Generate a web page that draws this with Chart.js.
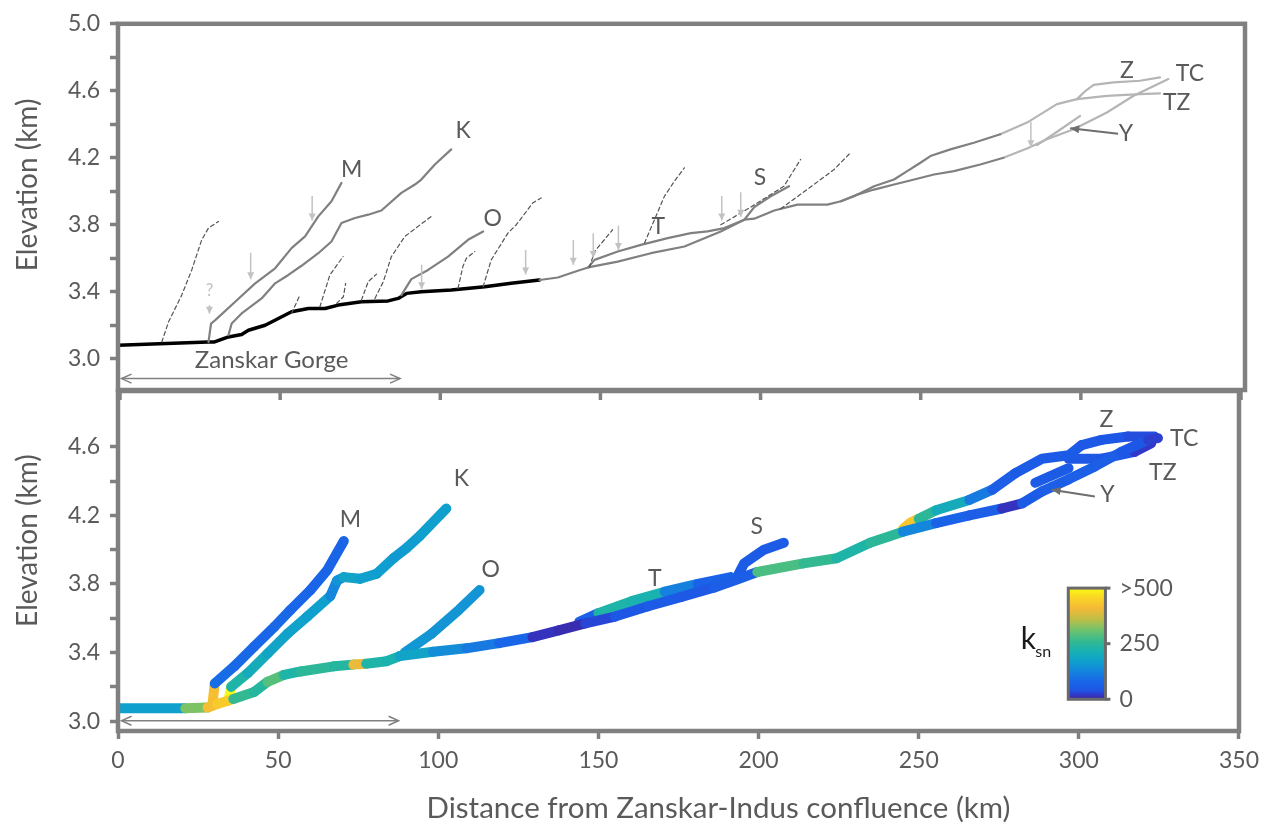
<!DOCTYPE html>
<html><head><meta charset="utf-8">
<script src="https://cdn.jsdelivr.net/npm/chart.js@4.4.1/dist/chart.umd.min.js"></script>
<style>
html,body{margin:0;padding:0;background:#fff;}
#wrap{position:relative;width:1267px;height:835px;}
canvas{position:absolute;left:0;top:0;}
</style></head><body>
<div id="wrap"><canvas id="cTop" width="1267" height="835"></canvas><canvas id="cBot" width="1267" height="835"></canvas></div>
<script>
// ---------------- axes ----------------
const xTicks = [0, 50, 100, 150, 200, 250, 300, 350];
const xRange = [0, 350];
const yTicksTop = [3.0, 3.2, 3.4, 3.6, 3.8, 4.0, 4.2, 4.4, 4.6, 4.8, 5.0];
const yLabelsTop = ['3.0', '3.4', '3.8', '4.2', '4.6', '5.0'];
const yRangeTop = [2.813, 5.0];
const yTicksBot = [3.0, 3.2, 3.4, 3.6, 3.8, 4.0, 4.2, 4.4, 4.6];
const yLabelsBot = ['3.0', '3.4', '3.8', '4.2', '4.6'];
const yRangeBot = [2.943, 4.925];
const xTitle = 'Distance from Zanskar-Indus confluence (km)';
const yTitle = 'Elevation (km)';

// ---------------- top panel: river long profiles [km, elevation km] ----------------
const zanskarGorgeTrunk = [[0,3.08],[28,3.10],[30,3.10],[34.3,3.13],[38.4,3.145],[40.5,3.17],[45.7,3.20],[49.8,3.24],[53.9,3.28],[59.1,3.30],[64.3,3.30],[68.4,3.32],[75.6,3.34],[83.9,3.345],[87,3.36],[89.6,3.39],[94.2,3.40],[103.5,3.41],[113.9,3.43],[122.1,3.45],[130.9,3.47]];
const trunkTop = [[130.9,3.47],[136.6,3.485],[142.8,3.525],[146,3.545],[155.2,3.58],[165.5,3.63],[175.9,3.67],[187.2,3.76],[194.5,3.83],[197.6,3.836],[203.8,3.885],[211,3.92],[220.3,3.92],[224.5,3.94],[229.6,3.98],[234.8,4.01],[241,4.04],[245.1,4.06],[253.4,4.10],[259.6,4.12],[267.8,4.16],[275,4.20]];
const tcTop = [[275,4.20],[282.3,4.255],[288.5,4.31],[296.8,4.37],[307.1,4.47],[315.4,4.57],[326.2,4.67]];
const tTop = [[146,3.545],[148,3.59],[155.2,3.64],[162.4,3.68],[170.7,3.72],[177.9,3.75],[183.1,3.76],[188.3,3.78],[194.5,3.83]];
const sTop = [[194.5,3.83],[197.6,3.905],[202.7,3.97],[208.4,4.03]];
const zUpperTop = [[224.5,3.94],[228.6,3.97],[234.8,4.03],[241,4.07],[245.1,4.12],[249.2,4.17],[252.3,4.21],[258.5,4.25],[265.8,4.29],[274,4.34]];
const zTop = [[274,4.34],[282.3,4.41],[291.6,4.52],[297.8,4.55],[300.5,4.60],[303,4.635],[309.2,4.65],[317.4,4.66],[323.6,4.68]];
const tzTop = [[297.8,4.55],[307.1,4.57],[317.4,4.58],[323.6,4.585]];
const yTop = [[285.4,4.275],[292,4.36],[298.8,4.45]];
const mTop = [[28.1,3.10],[28.9,3.21],[30.2,3.23],[36.4,3.34],[42.6,3.45],[48.8,3.54],[53.9,3.66],[58.1,3.73],[62.2,3.85],[66.3,3.94],[69.4,4.05]];
const kTop = [[34.3,3.14],[35.3,3.21],[38.4,3.27],[44.6,3.36],[48.8,3.45],[52.9,3.50],[57,3.555],[62.2,3.63],[66.3,3.70],[69.4,3.81],[73.6,3.84],[77.7,3.86],[81.8,3.885],[88,3.99],[92.2,4.04],[94.2,4.07],[98.4,4.16],[103.5,4.25]];
const oTop = [[88,3.38],[91.1,3.475],[96.3,3.53],[102.5,3.61],[108.7,3.71],[113.4,3.76]];
// small tributaries (dashed)
const trib1 = [[13.6,3.10],[15.7,3.22],[19.8,3.38],[22.9,3.53],[26,3.71],[28.1,3.78],[31.2,3.82]];
const trib2 = [[53.9,3.27],[56.5,3.38]];
const trib3 = [[62.7,3.31],[65.8,3.50],[69.9,3.61]];
const trib4 = [[67.9,3.33],[70,3.37],[70.7,3.45]];
const trib5 = [[75.6,3.35],[77.7,3.46],[80.3,3.505]];
const trib6 = [[79.8,3.36],[82.4,3.46],[84.9,3.61],[89.1,3.73],[97.3,3.85]];
const trib7 = [[105.6,3.42],[107.1,3.55],[108.2,3.60],[110.8,3.64]];
const trib8 = [[113.4,3.43],[115.9,3.59],[121.1,3.75],[123.7,3.80],[128.8,3.93],[131.4,3.96]];
const trib9 = [[146.4,3.545],[148,3.64],[153.6,3.77]];
const trib10 = [[163.5,3.69],[166.6,3.83],[169.7,3.97],[172.8,4.06],[175.9,4.14]];
const trib11 = [[187.2,3.80],[196.5,3.905],[206.8,4.03],[212,4.19]];
const trib12 = [[205.8,3.895],[216.1,4.04],[222.4,4.13],[227.5,4.23]];
// knickpoint arrows [km, top elevation, tip elevation]
const knickArrows = [[28.4,3.32,3.269],[41.2,3.632,3.474],[60.3,3.971,3.825],[94.3,3.561,3.415],[126.6,3.649,3.503],[141.4,3.708,3.561],[147.6,3.749,3.602],[155.4,3.795,3.649],[187.5,3.971,3.825],[193.4,3.994,3.848],[283.5,4.415,4.263]];
// labels [text, km, elevation]
const labelsTop = [['M',72.6,4.129],['K',107.2,4.363],['O',116.4,3.836],['T',167.8,3.788],['S',199.4,4.084],['Z',313.3,4.723],['TC',332.9,4.704],['TZ',328.8,4.528],['Y',313,4.343]];
const labelsBot = [['M',72.6,4.174],['K',107.2,4.413],['O',116.4,3.882],['T',167.6,3.83],['S',199.4,4.135],['Z',308.6,4.758],['TC',332.9,4.645],['TZ',326.2,4.447],['Y',308.9,4.32]];
const gorgeText = 'Zanskar Gorge';
const gorgeSpan = [1.1, 87.6];
const gorgeElevTop = 2.881, gorgeTextElev = 2.988, gorgeElevBot = 3.003;
const pointerTop = [[310.6,4.343],[295.7,4.376]];
const pointerBot = [[305,4.31],[291.5,4.35]];

// ---------------- bottom panel: profiles coloured by ksn ----------------
const trunkBot = [[0,3.075],[21,3.075],[28,3.08],[31,3.10],[36,3.13],[42.5,3.17],[46.7,3.23],[51.8,3.27],[57,3.29],[67.4,3.32],[73.5,3.33],[77.5,3.335],[83.9,3.35],[88,3.38],[98.4,3.405],[108.7,3.425],[119,3.455],[129.4,3.49],[137.6,3.53],[145.9,3.57],[155.2,3.61],[165.5,3.67],[175.9,3.725],[186.2,3.78],[192.4,3.82],[199.6,3.87],[214,3.92],[224.4,3.95],[234.8,4.04],[245.1,4.105],[255.4,4.155],[265.8,4.20],[276,4.24],[282.3,4.27],[288.5,4.34],[296.8,4.41],[305,4.485],[313.3,4.57],[321.6,4.64],[324.7,4.65]];
const trunkBotKsn = [170,320,420,440,260,240,290,230,250,240,400,230,220,180,140,110,80,15,8,30,45,55,50,60,60,280,260,230,250,130,70,60,15,55,60,65,60,45,25,25];
const mBot = [[29.5,3.10],[30.2,3.22],[36.3,3.32],[42.5,3.435],[48.8,3.55],[53.9,3.65],[60.1,3.765],[65.3,3.88],[70.5,4.05]];
const mBotKsn = [420,90,85,80,85,80,75,75,75];
const kBot = [[34.5,3.12],[35.3,3.20],[40.5,3.28],[46.7,3.395],[52.9,3.51],[59.1,3.61],[66.3,3.73],[68.4,3.82],[70.5,3.84],[75.6,3.83],[80.8,3.86],[86,3.95],[90.1,4.01],[94.2,4.08],[102.5,4.24]];
const kBotKsn = [500,230,200,180,175,170,130,150,180,170,165,160,165,170,170];
const oBot = [[89.5,3.40],[97.9,3.51],[106.5,3.65],[112.9,3.765]];
const oBotKsn = [155,150,150,150];
const tBot = [[144,3.58],[150,3.63],[160.4,3.70],[170.7,3.755],[181,3.80],[191.3,3.84]];
const tBotKsn = [70,230,220,120,70,60];
const sBot = [[193,3.83],[195.5,3.92],[201.7,4.0],[207.9,4.04]];
const sBotKsn = [55,55,55,55];
const zBot = [[245.1,4.12],[247.5,4.16],[250,4.18],[255.4,4.23],[265.8,4.29],[273,4.35],[280.2,4.446],[288.5,4.53],[296.8,4.55],[300.9,4.61],[307.1,4.64],[315.4,4.66],[323.6,4.66]];
const zBotKsn = [430,430,250,200,110,60,55,55,55,50,45,35,35];
const tzBot = [[296.8,4.53],[307.1,4.53],[317.4,4.57],[322.6,4.62]];
const tzBotKsn = [50,45,20,20];
const yBot = [[286.4,4.39],[296.8,4.475]];
const yBotKsn = [55,55];
// colour bar
const ksnTicks = [0, 250, 500];
const ksnTickLabels = ['0', '250', '>500'];
const ksnMax = 500;
const cbKm = [296.7, 308.3];
const cbElev = [3.128, 3.776];

// ---------------- styles ----------------
const FONT = 'Lato, "Open Sans", sans-serif';
const TXT = '#5a5a5a';
const FRAME = '#808080';
const parula = [[0,[60,38,160]],[0.04,[50,55,200]],[0.08,[30,85,228]],[0.16,[25,102,232]],[0.26,[20,135,220]],[0.34,[15,160,205]],[0.44,[25,178,175]],[0.52,[50,185,145]],[0.62,[110,195,110]],[0.72,[190,190,70]],[0.82,[245,185,55]],[0.92,[250,215,35]],[1,[249,250,20]]];
function ksnColor(v) {
  const t = Math.max(0, Math.min(1, v / ksnMax));
  for (let i = 1; i < parula.length; i++) {
    if (t <= parula[i][0]) {
      const [t0, c0] = parula[i-1], [t1, c1] = parula[i];
      const f = (t - t0) / (t1 - t0);
      const c = c0.map((a, k) => Math.round(a + (c1[k] - a) * f));
      return `rgb(${c[0]},${c[1]},${c[2]})`;
    }
  }
  return 'rgb(249,250,20)';
}
const pts = arr => arr.map(([x, y]) => ({x, y}));
const styles = {
  black: {borderColor: '#000', borderWidth: 3.5},
  grey: {borderColor: '#808080', borderWidth: 2.2},
  light: {borderColor: '#b5b5b5', borderWidth: 2.2},
  dash: {borderColor: '#555', borderWidth: 1.2, borderDash: [4, 3]}
};
function lineDs(arr, st) {
  return Object.assign({data: pts(arr), pointRadius: 0, tension: 0, fill: false, borderCapStyle: 'round', borderJoinStyle: 'round'}, styles[st]);
}
function ksnDs(arr, ksn) {
  return {data: pts(arr), pointRadius: 0, tension: 0, fill: false, borderWidth: 10,
    borderCapStyle: 'round', borderJoinStyle: 'round', borderColor: ksnColor(ksn[0]),
    segment: {borderColor: ctx => ksnColor(ksn[ctx.p0DataIndex])}};
}

// ---------------- drawing helpers ----------------
function head(ctx, x1, y1, x2, y2, len, hw, filled) {
  const a = Math.atan2(y2 - y1, x2 - x1);
  const bx = x2 - len * Math.cos(a), by = y2 - len * Math.sin(a);
  const px = hw * Math.sin(a), py = -hw * Math.cos(a);
  ctx.beginPath();
  ctx.moveTo(bx + px, by + py); ctx.lineTo(x2, y2); ctx.lineTo(bx - px, by - py);
  if (filled) { ctx.closePath(); ctx.fill(); } else ctx.stroke();
}
function arrow(ctx, x1, y1, x2, y2, color, w, len, hw, filled, both) {
  ctx.save();
  ctx.strokeStyle = color; ctx.fillStyle = color; ctx.lineWidth = w;
  ctx.beginPath(); ctx.moveTo(x1, y1); ctx.lineTo(x2, y2); ctx.stroke();
  head(ctx, x1, y1, x2, y2, len, hw, filled);
  if (both) head(ctx, x2, y2, x1, y1, len, hw, filled);
  ctx.restore();
}
function text(ctx, s, x, y, size, color, align, rot) {
  ctx.save();
  ctx.translate(x, y); if (rot) ctx.rotate(rot);
  ctx.font = `${size}px ${FONT}`; ctx.fillStyle = color;
  ctx.textAlign = align || 'center'; ctx.textBaseline = 'middle';
  ctx.fillText(s, 0, 0);
  ctx.restore();
}
function frame(ctx, ca) {
  ctx.save(); ctx.strokeStyle = FRAME; ctx.lineWidth = 4.5;
  ctx.strokeRect(ca.left, ca.top, ca.right - ca.left, ca.bottom - ca.top);
  ctx.restore();
}

function yScale(range, ticks, labels) {
  return {
    type: 'linear', min: range[0], max: range[1],
    afterFit: s => { s.width = 118; },
    afterBuildTicks: s => { s.ticks = ticks.map(v => ({value: v})); },
    border: {display: false},
    grid: {drawOnChartArea: false, drawTicks: true, tickLength: 8, tickWidth: 3.5, tickColor: FRAME},
    ticks: {padding: 10, color: TXT, font: {family: FONT, size: 23},
      callback: v => { const l = labels.find(s => Math.abs(parseFloat(s) - v) < 1e-6); return l === undefined ? '' : l; }},
    title: {display: false, text: yTitle}
  };
}

// ---------------- top chart ----------------
const topPlugin = {
  id: 'topAnno',
  afterDatasetsDraw(chart) {
    const {ctx, chartArea: ca, scales: {x, y}} = chart;
    knickArrows.forEach(([km, e1, e2]) => {
      const px = x.getPixelForValue(km);
      arrow(ctx, px, y.getPixelForValue(e1), px, y.getPixelForValue(e2), '#c2c2c2', 1.5, 7, 3.5, true, false);
    });
    text(ctx, '?', x.getPixelForValue(28.4), y.getPixelForValue(3.41), 17, '#c2c2c2');
    labelsTop.forEach(([s, km, e]) => text(ctx, s, x.getPixelForValue(km), y.getPixelForValue(e), 23, TXT));
    arrow(ctx, x.getPixelForValue(pointerTop[0][0]), y.getPixelForValue(pointerTop[0][1]), x.getPixelForValue(pointerTop[1][0]), y.getPixelForValue(pointerTop[1][1]), '#6e6e6e', 2, 9, 4, true, false);
    const gy = y.getPixelForValue(gorgeElevTop);
    arrow(ctx, x.getPixelForValue(gorgeSpan[0]), gy, x.getPixelForValue(gorgeSpan[1]), gy, '#808080', 1.5, 10, 4.5, false, true);
    text(ctx, gorgeText, x.getPixelForValue(47.7), y.getPixelForValue(gorgeTextElev), 24, TXT);
    frame(ctx, ca);
    // axis title
    text(ctx, yTitle, 28, ca.top + (ca.bottom - ca.top) * 0.44, 28, TXT, 'center', -Math.PI / 2);
  }
};
new Chart(document.getElementById('cTop'), {
  type: 'line',
  data: {datasets: [
    lineDs(trib1, 'dash'), lineDs(trib2, 'dash'), lineDs(trib3, 'dash'), lineDs(trib4, 'dash'),
    lineDs(trib5, 'dash'), lineDs(trib6, 'dash'), lineDs(trib7, 'dash'), lineDs(trib8, 'dash'),
    lineDs(trib9, 'dash'), lineDs(trib10, 'dash'), lineDs(trib11, 'dash'), lineDs(trib12, 'dash'),
    lineDs(mTop, 'grey'), lineDs(kTop, 'grey'), lineDs(oTop, 'grey'),
    lineDs(trunkTop, 'grey'), lineDs(tTop, 'grey'), lineDs(sTop, 'grey'), lineDs(zUpperTop, 'grey'),
    lineDs(tcTop, 'light'), lineDs(zTop, 'light'), lineDs(tzTop, 'light'), lineDs(yTop, 'light'),
    lineDs(zanskarGorgeTrunk, 'black')
  ]},
  options: {
    responsive: false, animation: false, devicePixelRatio: 1,
    layout: {padding: {left: 0, top: 16, right: 22, bottom: 445}},
    plugins: {legend: {display: false}, tooltip: {enabled: false}},
    scales: {
      x: {type: 'linear', min: xRange[0], max: xRange[1], display: false},
      y: yScale(yRangeTop, yTicksTop, yLabelsTop)
    }
  },
  plugins: [topPlugin]
});

// ---------------- bottom chart ----------------
const botPlugin = {
  id: 'botAnno',
  afterDatasetsDraw(chart) {
    const {ctx, chartArea: ca, scales: {x, y}} = chart;
    labelsBot.forEach(([s, km, e]) => text(ctx, s, x.getPixelForValue(km), y.getPixelForValue(e), 23, TXT));
    arrow(ctx, x.getPixelForValue(pointerBot[0][0]), y.getPixelForValue(pointerBot[0][1]), x.getPixelForValue(pointerBot[1][0]), y.getPixelForValue(pointerBot[1][1]), '#6e6e6e', 2, 9, 4, true, false);
    const gy = y.getPixelForValue(gorgeElevBot);
    arrow(ctx, x.getPixelForValue(gorgeSpan[0]), gy, x.getPixelForValue(gorgeSpan[1]), gy, '#808080', 1.5, 10, 4.5, false, true);
    // colour bar
    const L = x.getPixelForValue(cbKm[0]), R = x.getPixelForValue(cbKm[1]);
    const T = y.getPixelForValue(cbElev[1]), B = y.getPixelForValue(cbElev[0]);
    const g = ctx.createLinearGradient(0, B, 0, T);
    parula.forEach(([t, c]) => g.addColorStop(t, `rgb(${c[0]},${c[1]},${c[2]})`));
    ctx.save();
    ctx.fillStyle = g; ctx.fillRect(L, T, R - L, B - T);
    ctx.strokeStyle = '#6a6a6a'; ctx.lineWidth = 3; ctx.strokeRect(L, T, R - L, B - T);
    ksnTicks.forEach((v, i) => {
      const py = B - (B - T) * v / ksnMax;
      ctx.beginPath(); ctx.moveTo(R, py); ctx.lineTo(R + 5, py); ctx.stroke();
      text(ctx, ksnTickLabels[i], R + 14, py, 23, TXT, 'left');
    });
    ctx.restore();
    text(ctx, 'k', L - 40, (T + B) / 2 - 4, 30, '#1a1a1a');
    text(ctx, 'sn', L - 25, (T + B) / 2 + 8, 16, '#1a1a1a');
    // inward x ticks on the top edge
    ctx.save(); ctx.strokeStyle = FRAME; ctx.lineWidth = 3.5;
    xTicks.forEach(v => { const px = x.getPixelForValue(v) + 2; ctx.beginPath(); ctx.moveTo(px, ca.top); ctx.lineTo(px, ca.top + 9); ctx.stroke(); });
    ctx.restore();
    frame(ctx, ca);
    // axis titles
    text(ctx, yTitle, 28, ca.top + (ca.bottom - ca.top) * 0.44, 28, TXT, 'center', -Math.PI / 2);
    text(ctx, xTitle, x.getPixelForValue(187.5), 808, 29.5, TXT);
  }
};
new Chart(document.getElementById('cBot'), {
  type: 'line',
  data: {datasets: [
    ksnDs(trunkBot, trunkBotKsn), ksnDs(tBot, tBotKsn), ksnDs(sBot, sBotKsn), ksnDs(oBot, oBotKsn),
    ksnDs(kBot, kBotKsn), ksnDs(mBot, mBotKsn), ksnDs(zBot, zBotKsn), ksnDs(tzBot, tzBotKsn), ksnDs(yBot, yBotKsn)
  ]},
  options: {
    responsive: false, animation: false, devicePixelRatio: 1,
    layout: {padding: {left: 0, top: 391, right: 22, bottom: 0}},
    plugins: {legend: {display: false}, tooltip: {enabled: false}},
    scales: {
      x: {type: 'linear', min: xRange[0], max: xRange[1],
        afterFit: s => { s.height = 104; },
        afterBuildTicks: s => { s.ticks = xTicks.map(v => ({value: v})); },
        border: {display: false},
        grid: {drawOnChartArea: false, drawTicks: true, tickLength: 8, tickWidth: 3.5, tickColor: FRAME},
        ticks: {padding: 8, color: TXT, font: {family: FONT, size: 23}, maxRotation: 0, callback: v => String(v)},
        title: {display: false, text: xTitle}
      },
      y: yScale(yRangeBot, yTicksBot, yLabelsBot)
    }
  },
  plugins: [botPlugin]
});
</script>
</body></html>
